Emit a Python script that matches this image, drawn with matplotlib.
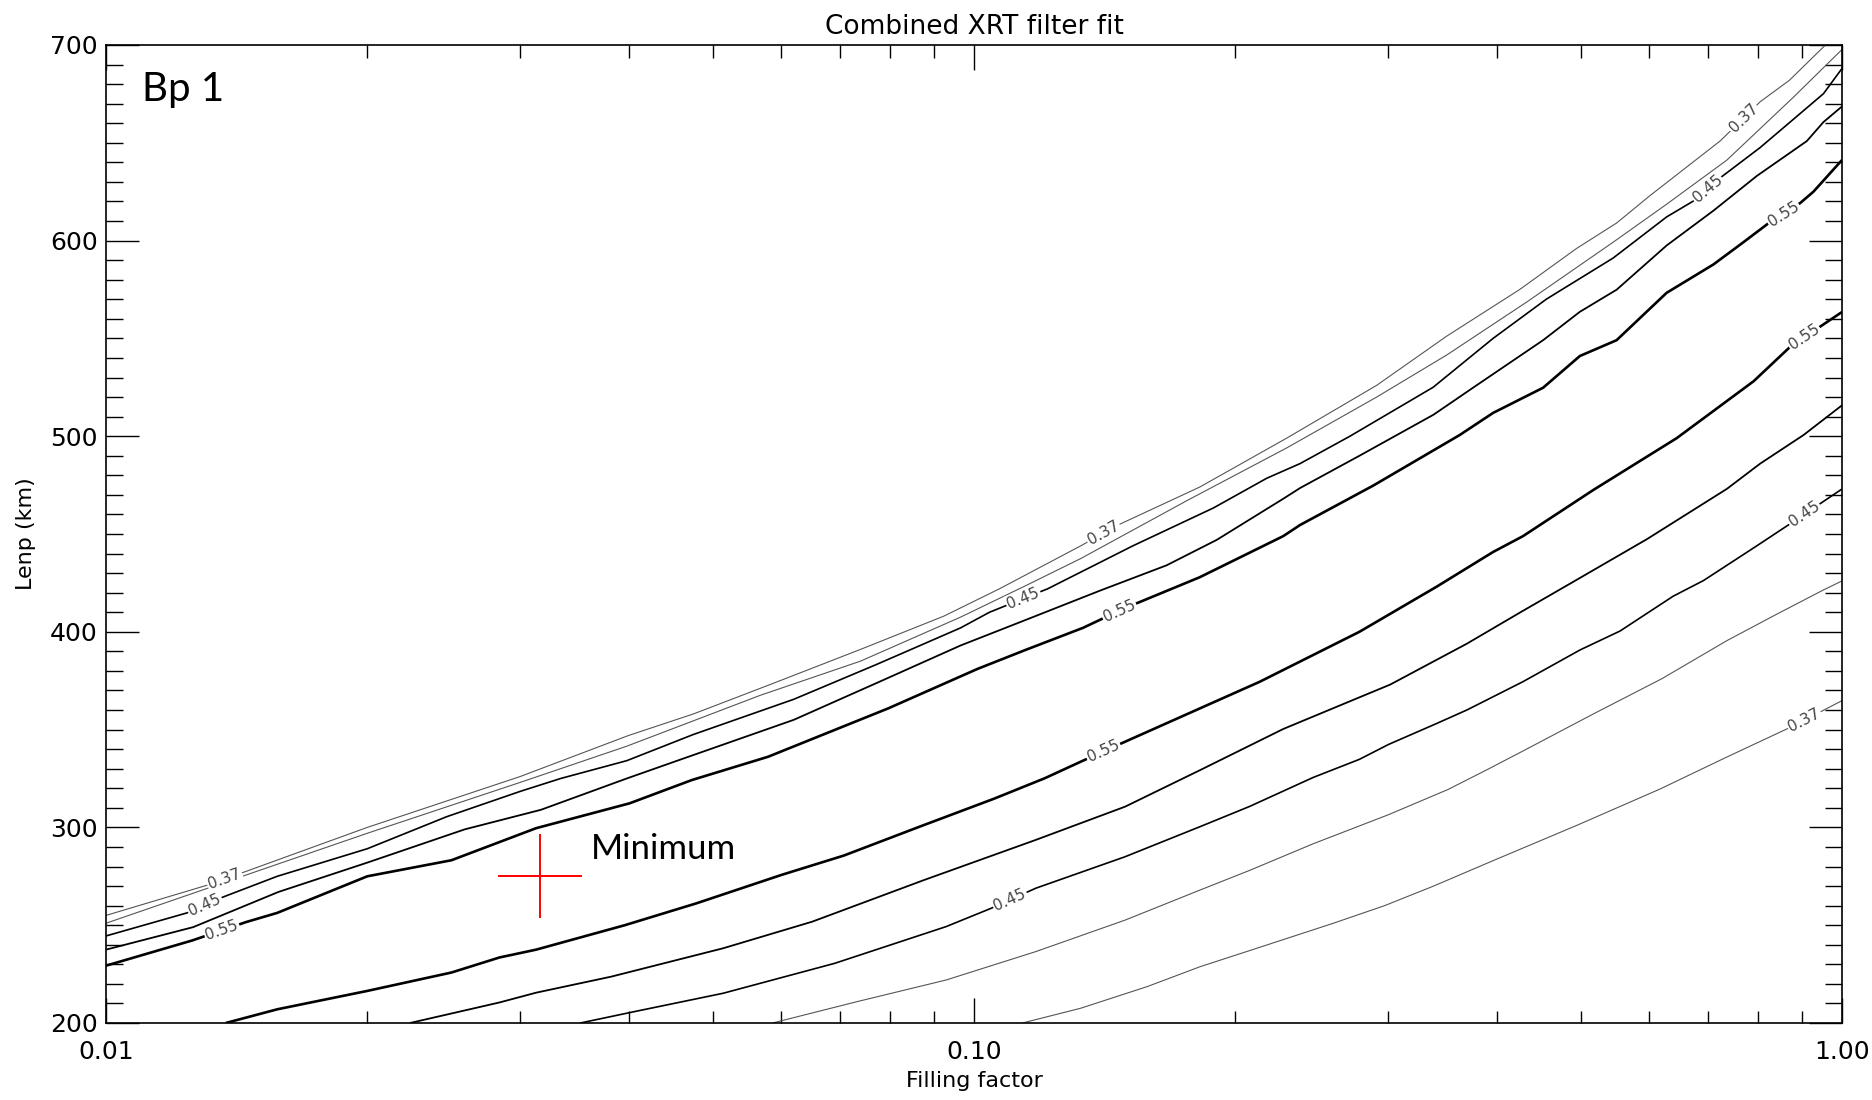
import numpy as np
import matplotlib
matplotlib.use("Agg")
import matplotlib.pyplot as plt
from matplotlib.ticker import FixedLocator, FixedFormatter, NullFormatter

# ---------------- data ----------------
title = "Combined XRT filter fit"
xlabel = "Filling factor"
ylabel = "Lenp (km)"
panel_label = "Bp 1"
min_label = "Minimum"

x_major = [0.01, 0.1, 1.0]
x_major_labels = ["0.01", "0.10", "1.00"]
x_minor = [0.02, 0.03, 0.04, 0.05, 0.06, 0.07, 0.08, 0.09,
           0.2, 0.3, 0.4, 0.5, 0.6, 0.7, 0.8, 0.9]
y_major = [200, 300, 400, 500, 600, 700]

min_x = [0.0316]
min_y = [275.0]

# upper branch contours
u37_x = [0.01, 0.0132, 0.0146, 0.02, 0.03, 0.04, 0.0475, 0.0582, 0.074, 0.0923, 0.107,
         0.1328, 0.1472, 0.182, 0.2292, 0.291, 0.35, 0.4253, 0.4946, 0.55, 0.6009,
         0.7241, 0.805, 0.87, 0.957, 1.0]
u37_y = [255, 271, 278, 300, 326, 347, 358, 373, 391, 408, 422,
         444, 455, 474, 499, 526, 551, 575, 596, 609, 623,
         651, 671, 682, 700, 709]

u41_x = [0.01, 0.02, 0.03, 0.0398, 0.0567, 0.074, 0.0965, 0.1146, 0.1328, 0.1758,
         0.2292, 0.291, 0.3507, 0.433, 0.545, 0.628, 0.737, 0.88, 1.0]
u41_y = [251, 297, 323, 341.5, 367.5, 385, 407.5, 423.5, 437.5, 467,
         494, 520, 541.6, 568.5, 599.2, 618.6, 641.2, 673.5, 697.7]

u45_x = [0.01, 0.0124, 0.01366, 0.01575, 0.02, 0.0247, 0.03, 0.0334, 0.0398, 0.0475,
         0.062, 0.0774, 0.0965, 0.1042, 0.1216, 0.1525, 0.1887, 0.2174, 0.2375, 0.2711,
         0.338, 0.3963, 0.4566, 0.545, 0.628, 0.674, 0.724, 0.805, 0.88, 0.952, 1.0]
u45_y = [244.5, 256.3, 264.5, 275, 289.1, 305.5, 318.4, 325, 334.1, 347.5,
         365.5, 383.5, 402, 410, 422, 444, 463.3, 478.5, 486, 500,
         525, 550, 570.1, 591.1, 612.1, 620.2, 632.1, 647.6, 662.2, 675.1, 688]

u50_x = [0.01, 0.0126, 0.0158, 0.02, 0.0259, 0.0317, 0.0398, 0.0475, 0.062, 0.0774,
         0.0965, 0.1146, 0.1396, 0.1667, 0.1904, 0.2271, 0.2375, 0.278, 0.3384, 0.3758,
         0.4526, 0.4989, 0.55, 0.628, 0.711, 0.798, 0.911, 0.952, 1.0]
u50_y = [237.5, 249, 267, 282, 299, 309, 325, 337, 355, 374,
         393, 406, 421, 434, 447, 468, 473.5, 490, 511, 524.8,
         549.1, 563.6, 574.9, 597.5, 615.3, 633.1, 650.9, 660.6, 668.6]

u55_x = [0.01, 0.01257, 0.0145, 0.01575, 0.02, 0.025, 0.0313, 0.0401, 0.0473, 0.0579,
         0.0797, 0.1009, 0.1146, 0.1335, 0.1485, 0.182, 0.2271, 0.2375, 0.2885, 0.3627,
         0.3963, 0.4526, 0.4989, 0.55, 0.628, 0.711, 0.77, 0.823, 0.895, 0.927, 1.0]
u55_y = [229.3, 242.2, 251.6, 256.3, 275, 283.2, 299.6, 312.3, 324.2, 336.1,
         360.9, 381, 390.7, 402, 411.7, 427.9, 448.9, 454.6, 474.8, 500.6,
         511.9, 524.8, 541, 549.1, 573.3, 587.8, 599.2, 608.9, 619.2, 625, 641.2]

# lower branch contours
l55_x = [0.01374, 0.01575, 0.02, 0.025, 0.0284, 0.0313, 0.0396, 0.0479, 0.06, 0.0708,
         0.0866, 0.1055, 0.1206, 0.1335, 0.1493, 0.1822, 0.2135, 0.278, 0.341, 0.3963,
         0.429, 0.517, 0.645, 0.791, 0.872, 1.0]
l55_y = [200, 207, 216.4, 225.8, 233.5, 237.5, 250, 261.2, 275.7, 285.6,
         300.4, 314.7, 325.1, 334.1, 343.8, 360.9, 374.5, 400, 423, 440.8,
         448.9, 472.5, 499, 528.1, 545.8, 563.5]

l50_x = [0.0224, 0.0284, 0.0313, 0.0382, 0.0514, 0.0651, 0.0876, 0.1178, 0.1493, 0.1822,
         0.2271, 0.278, 0.3016, 0.3696, 0.4262, 0.486, 0.5957, 0.737, 0.805, 0.903, 1.0]
l50_y = [200, 210.5, 215.5, 223.7, 238.2, 251.8, 273.1, 293.6, 310.6, 329.3,
         350.3, 366.5, 373, 393.9, 410, 424.6, 447.3, 473.1, 486, 500.6, 515.8]

l45_x = [0.0352, 0.0406, 0.0514, 0.0691, 0.0929, 0.1046, 0.1178, 0.1493, 0.1822, 0.2077,
         0.2458, 0.278, 0.3003, 0.3407, 0.3696, 0.429, 0.499, 0.555, 0.639, 0.6925,
         0.798, 0.872, 1.0]
l45_y = [200, 205.8, 215.2, 230.5, 249.3, 258.6, 268.9, 285, 300.4, 310.7,
         325.5, 334.8, 342.4, 353, 360, 374.5, 390.7, 400.4, 418.2, 426.2,
         444, 455.3, 473]

l41_x = [0.0586, 0.0733, 0.0929, 0.1178, 0.1493, 0.1822, 0.2077, 0.2458, 0.3003, 0.3517,
         0.3908, 0.433, 0.517, 0.62, 0.737, 0.841, 0.952, 1.0]
l41_y = [200, 210.9, 222, 236.5, 252.6, 268, 278, 291.6, 306.5, 319.4,
         329.7, 340, 358, 376, 395.5, 409, 421.4, 426]

l37_x = [0.1137, 0.1326, 0.1583, 0.1822, 0.2077, 0.2594, 0.2972, 0.3384, 0.3963, 0.4946,
         0.617, 0.737, 0.88, 1.0]
l37_y = [200, 207.5, 218.6, 228.8, 237, 251, 260, 270, 283, 301,
         319.6, 336, 352, 364.8]

# contour label positions (x) per line
u37_lab = [0.0137, 0.141, 0.77]
u45_lab = [0.0130, 0.114, 0.70]
u55_lab = [0.0136, 0.147, 0.856]
l55_lab = [0.141, 0.905]
l45_lab = [0.110, 0.905]
l37_lab = [0.905]

# ---------------- figure ----------------
W, H = 1872, 1100
fig = plt.figure(figsize=(W / 100, H / 100), dpi=100)
ax = fig.add_axes([106 / W, 1 - 1023 / H, (1842 - 106) / W, (1023 - 45) / H])
ax.set_xscale("log")
ax.set_xlim(0.01, 1.0)
ax.set_ylim(200, 700)

gray = "#555555"
lines = [
    (u37_x, u37_y, gray, 0.8, "0.37", u37_lab),
    (u41_x, u41_y, gray, 0.8, None, []),
    (u45_x, u45_y, "black", 1.2, "0.45", u45_lab),
    (u50_x, u50_y, "black", 1.3, None, []),
    (u55_x, u55_y, "black", 1.9, "0.55", u55_lab),
    (l55_x, l55_y, "black", 1.9, "0.55", l55_lab),
    (l50_x, l50_y, "black", 1.3, None, []),
    (l45_x, l45_y, "black", 1.2, "0.45", l45_lab),
    (l41_x, l41_y, gray, 0.8, None, []),
    (l37_x, l37_y, gray, 0.8, "0.37", l37_lab),
]

for xs, ys, col, lw, lab, labx in lines:
    ax.plot(xs, ys, color=col, lw=lw, zorder=2, solid_capstyle="butt")

fig.canvas.draw()
for xs, ys, col, lw, lab, labx in lines:
    lx = np.log10(xs)
    for xl in labx:
        yl = np.interp(np.log10(xl), lx, ys)
        xa, xb = xl / 1.04, xl * 1.04
        ya = np.interp(np.log10(xa), lx, ys)
        yb = np.interp(np.log10(xb), lx, ys)
        p1 = ax.transData.transform((xa, ya))
        p2 = ax.transData.transform((xb, yb))
        ang = np.degrees(np.arctan2(p2[1] - p1[1], p2[0] - p1[0]))
        ax.text(xl, yl, lab, rotation=ang, rotation_mode="anchor",
                ha="center", va="center", fontsize=11, color="#444444",
                bbox=dict(fc="white", ec="none", pad=1.0), zorder=4)

ax.plot(min_x, min_y, marker="+", ms=60, mew=1.4, color="red", ls="none", zorder=5)

ax.text(0.0110, 677, panel_label, fontsize=29, family=["Lato", "DejaVu Sans"],
        ha="left", va="center", zorder=6)
ax.text(0.0362, 289, min_label, fontsize=25, family=["Lato", "DejaVu Sans"],
        ha="left", va="center", zorder=6)

# axes styling
ax.xaxis.set_major_locator(FixedLocator(x_major))
ax.xaxis.set_major_formatter(FixedFormatter(x_major_labels))
ax.xaxis.set_minor_locator(FixedLocator(x_minor))
ax.xaxis.set_minor_formatter(NullFormatter())
ax.yaxis.set_major_locator(FixedLocator(y_major))
ax.yaxis.set_minor_locator(FixedLocator(list(range(200, 701, 10))))

ax.tick_params(axis="x", which="major", direction="in", top=True, bottom=True,
               length=18, width=1.0, labelsize=18, pad=12)
ax.tick_params(axis="x", which="minor", direction="in", top=True, bottom=True,
               length=9, width=1.0)
ax.tick_params(axis="y", which="major", direction="in", left=True, right=True,
               length=24, width=1.0, labelsize=18, pad=6)
ax.tick_params(axis="y", which="minor", direction="in", left=True, right=True,
               length=12, width=1.0)
for sp in ax.spines.values():
    sp.set_linewidth(1.2)

ax.set_title(title, fontsize=19, pad=8)
ax.set_xlabel(xlabel, fontsize=16, labelpad=5)
ax.set_ylabel(ylabel, fontsize=16, labelpad=10)

fig.savefig("out.png", dpi=100)
